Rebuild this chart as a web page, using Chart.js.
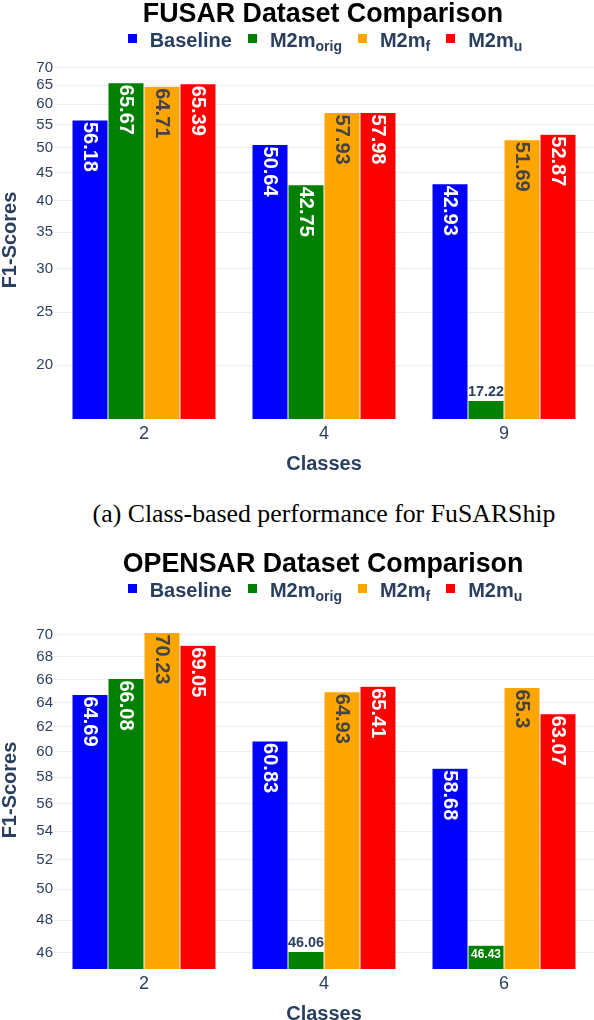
<!DOCTYPE html>
<html><head><meta charset="utf-8">
<script src="https://cdn.jsdelivr.net/npm/chart.js@4.4.1/dist/chart.umd.min.js"></script>
<style>
html,body{margin:0;padding:0;background:#fff;overflow:hidden;width:594px;height:1020px}
.blk{position:absolute;left:0;width:594px;height:480px}
.title{position:absolute;left:53px;width:540px;top:0;text-align:center;font:bold 26.8px/1 'Liberation Sans',Arial,sans-serif;color:#000;white-space:nowrap}
.legend{position:absolute;left:56px;width:538px;top:29.8px;text-align:center;font:bold 20px/1 'Liberation Sans',Arial,sans-serif;color:#2a3f5f;white-space:nowrap}
.sq{display:inline-block;width:9px;height:9px;position:relative;top:-4px;margin-right:13px}
.item{margin-right:16px}
.item:last-child{margin-right:0}
.legend sub{font-size:14px;line-height:1;vertical-align:-3.5px}
canvas{position:absolute;left:0;top:0}
.caption{position:absolute;left:54px;width:540px;top:501.4px;text-align:center;font:25.8px/1 'Liberation Serif','Times New Roman',serif;color:#000;white-space:nowrap}
</style></head>
<body>
<div class="blk" style="top:0">
  <canvas id="c1" width="594" height="480"></canvas>
  <div class="title">FUSAR Dataset Comparison</div>
  <div class="legend" id="lg1"></div>
</div>
<div class="caption">(a) Class-based performance for FuSARShip</div>
<div class="blk" style="top:550px">
  <canvas id="c2" width="594" height="480"></canvas>
  <div class="title">OPENSAR Dataset Comparison</div>
  <div class="legend" id="lg2"></div>
</div>
<script>
// ---- data ----
const seriesNames = ['Baseline', 'M2m', 'M2m', 'M2m'];
const seriesSubscripts = ['', 'orig', 'f', 'u'];

const fusarClasses = ['2', '4', '9'];
const fusarBaseline = [56.18, 50.64, 42.93];
const fusarOrig = [65.67, 42.75, 17.22];
const fusarF = [64.71, 57.93, 51.69];
const fusarU = [65.39, 57.98, 52.87];
const fusarTicks = [20, 25, 30, 35, 40, 45, 50, 55, 60, 65, 70];

const opensarClasses = ['2', '4', '6'];
const opensarBaseline = [64.69, 60.83, 58.68];
const opensarOrig = [66.08, 46.06, 46.43];
const opensarF = [70.23, 64.93, 65.3];
const opensarU = [69.05, 65.41, 63.07];
const opensarTicks = [46, 48, 50, 52, 54, 56, 58, 60, 62, 64, 66, 68, 70];

// ---- styles ----
const colors = ['#0000ff', '#008000', '#ffa500', '#ff0000'];
const insideText = ['#ffffff', '#ffffff', '#444444', '#ffffff'];
const FAM = "'Liberation Sans', Arial, sans-serif";
const INK = '#2a3f5f';

function buildLegend(id) {
  const el = document.getElementById(id);
  let html = '';
  seriesNames.forEach((n, i) => {
    html += '<span class="item"><span class="sq" style="background:' + colors[i] + '"></span>' + n +
      (seriesSubscripts[i] ? '<sub>' + seriesSubscripts[i] + '</sub>' : '') + '</span>';
  });
  el.innerHTML = html;
}
buildLegend('lg1');
buildLegend('lg2');

const barLabels = {
  id: 'barLabels',
  afterDatasetsDraw(chart) {
    const ctx = chart.ctx;
    const FS = 20, PAD = 3;
    chart.data.datasets.forEach((ds, di) => {
      const meta = chart.getDatasetMeta(di);
      meta.data.forEach((el, i) => {
        const txt = String(ds.data[i]);
        const p = el.getProps(['x', 'y', 'base', 'width'], true);
        const h = p.base - p.y;
        ctx.save();
        ctx.font = 'bold ' + FS + 'px ' + FAM;
        const w = ctx.measureText(txt).width;
        if (h - 2 * PAD >= w) {
          ctx.translate(p.x, p.y + 2);
          ctx.rotate(Math.PI / 2);
          ctx.fillStyle = ds.labelColor;
          ctx.textAlign = 'left';
          ctx.textBaseline = 'middle';
          ctx.fillText(txt, 0, 0);
        } else {
          const fsIn = Math.min(FS, FS * (p.width - 2 * PAD) / w);
          ctx.textAlign = 'center';
          if (h - 2 * PAD >= fsIn * 1.2) {
            ctx.font = 'bold ' + fsIn + 'px ' + FAM;
            ctx.fillStyle = ds.labelColor;
            ctx.textBaseline = 'top';
            ctx.fillText(txt, p.x, p.y + PAD);
          } else {
            const fsOut = Math.min(FS, FS * p.width / w);
            ctx.font = 'bold ' + fsOut + 'px ' + FAM;
            ctx.fillStyle = INK;
            ctx.textBaseline = 'alphabetic';
            ctx.fillText(txt, p.x, p.y - 4.5);
          }
        }
        ctx.restore();
      });
    });
  }
};

function makeChart(id, classes, series, yTicks, yMin, yMax) {
  return new Chart(document.getElementById(id), {
    type: 'bar',
    data: {
      labels: classes,
      datasets: series.map((d, i) => ({
        label: seriesNames[i] + seriesSubscripts[i],
        data: d,
        backgroundColor: colors[i],
        borderColor: '#ffffff',
        borderWidth: 0.5,
        labelColor: insideText[i]
      }))
    },
    options: {
      responsive: false,
      animation: false,
      events: [],
      layout: { padding: { top: 61, left: 0, right: 0, bottom: 0 } },
      datasets: { bar: { barPercentage: 1, categoryPercentage: 0.8 } },
      plugins: { legend: { display: false }, tooltip: { enabled: false }, title: { display: false } },
      scales: {
        x: {
          grid: { display: false, drawTicks: false },
          border: { display: false },
          ticks: { color: INK, font: { size: 18, family: FAM }, padding: 4, maxRotation: 0 },
          title: { display: true, text: 'Classes', color: INK, font: { size: 20, weight: 'bold', family: FAM }, padding: { top: 0, bottom: 3.5 } },
          afterFit(s) { s.height = 61; }
        },
        y: {
          type: 'logarithmic',
          min: yMin, max: yMax,
          bounds: 'data',
          grid: { color: '#ebf0f8', lineWidth: 1, drawTicks: false },
          border: { display: false },
          ticks: { color: INK, font: { size: 15, family: FAM }, padding: 1, autoSkip: false, callback: v => String(v) },
          afterBuildTicks(s) { s.ticks = yTicks.map(v => ({ value: v })); },
          title: { display: true, text: 'F1-Scores', color: INK, font: { size: 20, weight: 'bold', family: FAM, lineHeight: 1 }, padding: 0 },
          afterFit(s) { s.width = 54; }
        }
      }
    },
    plugins: [barLabels]
  });
}

makeChart('c1', fusarClasses, [fusarBaseline, fusarOrig, fusarF, fusarU], fusarTicks, 15.93, 72.0);
makeChart('c2', opensarClasses, [opensarBaseline, opensarOrig, opensarF, opensarU], opensarTicks, 45, 72.25);
</script>
</body></html>
